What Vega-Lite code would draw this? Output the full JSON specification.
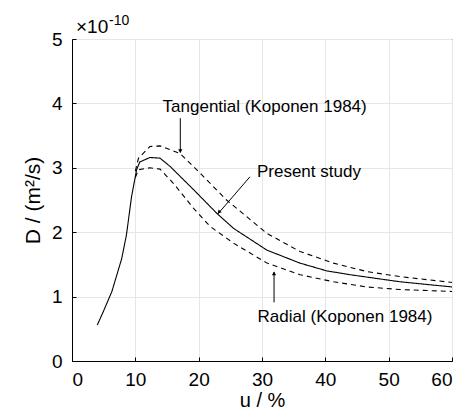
{
  "$schema": "https://vega.github.io/schema/vega-lite/v6.json",
  "width": 380,
  "height": 322,
  "autosize": {"type": "none"},
  "padding": {"left": 72, "top": 39, "right": 15, "bottom": 54},
  "background": "white",
  "config": {
    "view": {"stroke": "black", "strokeWidth": 1},
    "font": "Liberation Sans",
    "axis": {
      "domainColor": "black",
      "tickColor": "black",
      "gridColor": "#e6e6e6",
      "gridWidth": 1,
      "labelFont": "Liberation Sans",
      "titleFont": "Liberation Sans",
      "labelFontSize": 19,
      "titleFontSize": 21,
      "labelColor": "black",
      "titleColor": "black",
      "titleFontWeight": "normal",
      "tickSize": -4
    }
  },
  "datasets": {
    "curves": [
      {"u": 4.0, "D": 0.56, "series": "Present study"},
      {"u": 5.0, "D": 0.78, "series": "Present study"},
      {"u": 6.3, "D": 1.08, "series": "Present study"},
      {"u": 7.85, "D": 1.59, "series": "Present study"},
      {"u": 8.6, "D": 1.96, "series": "Present study"},
      {"u": 9.4, "D": 2.55, "series": "Present study"},
      {"u": 10.2, "D": 2.97, "series": "Present study"},
      {"u": 10.7, "D": 3.09, "series": "Present study"},
      {"u": 12.3, "D": 3.16, "series": "Present study"},
      {"u": 13.9, "D": 3.15, "series": "Present study"},
      {"u": 15.5, "D": 3.02, "series": "Present study"},
      {"u": 19.2, "D": 2.66, "series": "Present study"},
      {"u": 22.9, "D": 2.29, "series": "Present study"},
      {"u": 25.5, "D": 2.06, "series": "Present study"},
      {"u": 30.8, "D": 1.72, "series": "Present study"},
      {"u": 36.0, "D": 1.52, "series": "Present study"},
      {"u": 40.2, "D": 1.40, "series": "Present study"},
      {"u": 43.9, "D": 1.34, "series": "Present study"},
      {"u": 51.8, "D": 1.23, "series": "Present study"},
      {"u": 60.0, "D": 1.15, "series": "Present study"},
      {"u": 10.0, "D": 2.95, "series": "Tangential"},
      {"u": 10.5, "D": 3.15, "series": "Tangential"},
      {"u": 12.3, "D": 3.33, "series": "Tangential"},
      {"u": 13.9, "D": 3.34, "series": "Tangential"},
      {"u": 17.1, "D": 3.22, "series": "Tangential"},
      {"u": 20.5, "D": 2.89, "series": "Tangential"},
      {"u": 24.4, "D": 2.50, "series": "Tangential"},
      {"u": 30.8, "D": 1.98, "series": "Tangential"},
      {"u": 36.0, "D": 1.70, "series": "Tangential"},
      {"u": 41.3, "D": 1.52, "series": "Tangential"},
      {"u": 46.5, "D": 1.39, "series": "Tangential"},
      {"u": 51.8, "D": 1.31, "series": "Tangential"},
      {"u": 60.0, "D": 1.22, "series": "Tangential"},
      {"u": 10.0, "D": 2.85, "series": "Radial"},
      {"u": 10.5, "D": 2.97, "series": "Radial"},
      {"u": 12.3, "D": 3.00, "series": "Radial"},
      {"u": 13.9, "D": 2.98, "series": "Radial"},
      {"u": 16.0, "D": 2.76, "series": "Radial"},
      {"u": 19.2, "D": 2.37, "series": "Radial"},
      {"u": 21.8, "D": 2.09, "series": "Radial"},
      {"u": 25.5, "D": 1.83, "series": "Radial"},
      {"u": 30.8, "D": 1.52, "series": "Radial"},
      {"u": 36.0, "D": 1.34, "series": "Radial"},
      {"u": 41.3, "D": 1.23, "series": "Radial"},
      {"u": 46.5, "D": 1.15, "series": "Radial"},
      {"u": 51.8, "D": 1.11, "series": "Radial"},
      {"u": 60.0, "D": 1.08, "series": "Radial"}
    ],
    "leaders": [
      {"u1": 17.1, "D1": 3.77, "u2": 17.1, "D2": 3.24},
      {"u1": 28.1, "D1": 2.86, "u2": 23.0, "D2": 2.28},
      {"u1": 31.9, "D1": 0.91, "u2": 31.9, "D2": 1.38}
    ],
    "labels": [
      {"u": 14.3, "D": 3.94, "text": "Tangential (Koponen 1984)"},
      {"u": 29.2, "D": 2.94, "text": "Present study"},
      {"u": 29.3, "D": 0.68, "text": "Radial (Koponen 1984)"}
    ]
  },
  "layer": [
    {
      "data": {"name": "curves"},
      "mark": {"type": "line", "color": "black", "strokeWidth": 1.1},
      "encoding": {
        "x": {
          "field": "u", "type": "quantitative",
          "scale": {"domain": [0, 60], "nice": false},
          "axis": {"values": [0, 10, 20, 30, 40, 50, 60], "format": "d", "title": "u / %", "labelPadding": 13, "titlePadding": 1, "titleFontSize": 20}
        },
        "y": {
          "field": "D", "type": "quantitative",
          "scale": {"domain": [0, 5], "nice": false},
          "axis": {"values": [0, 1, 2, 3, 4, 5], "format": "d", "title": "D / (m²/s)", "labelPadding": 14, "titlePadding": 8}
        },
        "detail": {"field": "series"},
        "strokeDash": {
          "field": "series", "type": "nominal",
          "scale": {"domain": ["Present study", "Tangential", "Radial"], "range": [[1, 0], [5, 4], [5, 4]]},
          "legend": null
        }
      }
    },
    {
      "data": {"name": "leaders"},
      "mark": {"type": "rule", "color": "black", "strokeWidth": 1},
      "encoding": {
        "x": {"field": "u1", "type": "quantitative"},
        "y": {"field": "D1", "type": "quantitative"},
        "x2": {"field": "u2"},
        "y2": {"field": "D2"}
      }
    },
    {
      "data": {"values": [{"u": 17.1, "D": 3.26}]},
      "mark": {"type": "point", "shape": "triangle-down", "filled": true, "color": "black", "size": 18, "opacity": 1},
      "encoding": {"x": {"field": "u", "type": "quantitative"}, "y": {"field": "D", "type": "quantitative"}}
    },
    {
      "data": {"values": [{"u": 31.9, "D": 1.36}]},
      "mark": {"type": "point", "shape": "triangle-up", "filled": true, "color": "black", "size": 18, "opacity": 1},
      "encoding": {"x": {"field": "u", "type": "quantitative"}, "y": {"field": "D", "type": "quantitative"}}
    },
    {
      "data": {"values": [{"u": 23.2, "D": 2.31}]},
      "mark": {"type": "point", "shape": "triangle-up", "angle": 221, "filled": true, "color": "black", "size": 18, "opacity": 1},
      "encoding": {"x": {"field": "u", "type": "quantitative"}, "y": {"field": "D", "type": "quantitative"}}
    },
    {
      "data": {"name": "labels"},
      "mark": {"type": "text", "align": "left", "baseline": "middle", "fontSize": 17, "font": "Liberation Sans", "color": "black"},
      "encoding": {
        "x": {"field": "u", "type": "quantitative"},
        "y": {"field": "D", "type": "quantitative"},
        "text": {"field": "text"}
      }
    },
    {
      "data": {"values": [{"u": 0, "D": 5, "text": "×10"}]},
      "mark": {"type": "text", "align": "left", "baseline": "alphabetic", "fontSize": 19, "font": "Liberation Sans", "color": "black", "dx": 4, "dy": -6},
      "encoding": {
        "x": {"field": "u", "type": "quantitative"},
        "y": {"field": "D", "type": "quantitative"},
        "text": {"field": "text"}
      }
    },
    {
      "data": {"values": [{"u": 0, "D": 5, "text": "-10"}]},
      "mark": {"type": "text", "align": "left", "baseline": "alphabetic", "fontSize": 14, "font": "Liberation Sans", "color": "black", "dx": 37, "dy": -14},
      "encoding": {
        "x": {"field": "u", "type": "quantitative"},
        "y": {"field": "D", "type": "quantitative"},
        "text": {"field": "text"}
      }
    }
  ]
}
